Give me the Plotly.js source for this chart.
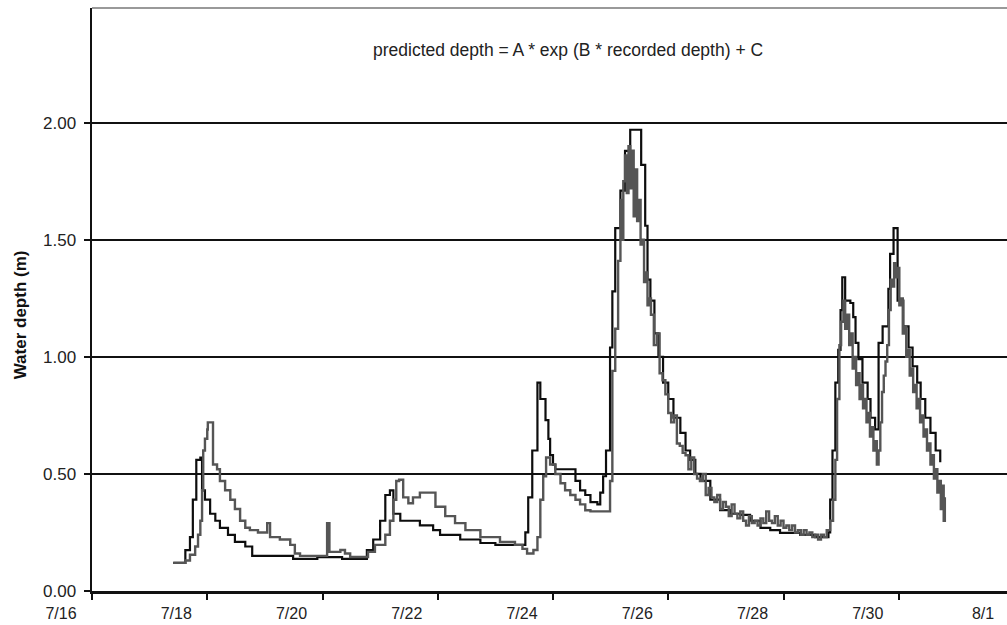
<!DOCTYPE html>
<html><head><meta charset="utf-8">
<script src="https://cdn.plot.ly/plotly-3.0.1.min.js"></script>
<style>html,body{margin:0;padding:0;overflow:hidden;background:#fff}#chart{width:1030px;height:625px}</style>
</head><body><div id="chart"></div>
<script>
// Day of July (fractional) and water depth (m) for the dark (recorded-based) series
const blackDay=[17.41,17.58,17.62,17.70,17.75,17.81,17.88,17.91,17.96,18.05,18.14,18.22,18.36,18.48,18.66,18.78,19.49,19.91,20.34,20.65,20.77,20.88,21.00,21.09,21.17,21.23,21.35,21.69,21.92,22.04,22.39,22.74,23.00,23.43,23.52,23.57,23.64,23.73,23.78,23.87,23.92,23.95,24.00,24.04,24.30,24.39,24.47,24.56,24.65,24.77,24.82,24.87,24.92,24.99,25.03,25.08,25.17,25.25,25.34,25.51,25.53,25.60,25.64,25.69,25.76,25.83,25.91,26.00,26.09,26.21,26.30,26.38,26.47,26.56,26.73,26.90,27.08,27.25,27.42,27.60,27.77,27.94,28.29,28.55,28.78,28.81,28.85,28.90,28.95,28.99,29.02,29.07,29.16,29.21,29.25,29.30,29.37,29.46,29.51,29.59,29.65,29.72,29.82,29.85,29.91,29.98,30.08,30.17,30.24,30.32,30.38,30.46,30.55,30.64,30.72];
const blackDepth=[0.12,0.12,0.175,0.23,0.39,0.56,0.57,0.43,0.39,0.33,0.30,0.27,0.24,0.21,0.19,0.15,0.137,0.145,0.137,0.137,0.175,0.22,0.30,0.41,0.43,0.33,0.30,0.28,0.26,0.24,0.22,0.205,0.197,0.197,0.25,0.40,0.60,0.89,0.82,0.73,0.65,0.58,0.54,0.52,0.52,0.47,0.43,0.41,0.38,0.37,0.42,0.49,0.60,1.04,1.28,1.55,1.71,1.88,1.97,1.97,1.82,1.56,1.33,1.24,1.10,1.00,0.89,0.82,0.74,0.675,0.60,0.56,0.50,0.47,0.39,0.345,0.33,0.325,0.30,0.27,0.26,0.248,0.24,0.23,0.25,0.39,0.60,0.89,1.03,1.20,1.34,1.24,1.23,1.17,1.06,0.99,0.89,0.82,0.74,0.69,1.06,1.13,1.29,1.44,1.55,1.24,1.13,1.04,0.96,0.89,0.82,0.74,0.675,0.60,0.55];

// Day of July (fractional) and water depth (m) for the gray (predicted) series
const grayDay=[17.41,17.62,17.70,17.79,17.84,17.88,17.91,17.93,17.96,18.00,18.01,18.08,18.10,18.17,18.22,18.31,18.40,18.48,18.57,18.66,18.74,18.88,19.00,19.04,19.09,19.26,19.44,19.52,19.61,20.05,20.08,20.12,20.31,20.39,20.48,20.69,20.79,20.91,21.09,21.17,21.23,21.28,21.33,21.40,21.49,21.57,21.69,21.83,21.96,22.13,22.30,22.48,22.74,23.08,23.34,23.47,23.55,23.66,23.73,23.78,23.83,23.88,23.95,24.04,24.13,24.21,24.30,24.39,24.47,24.56,24.65,24.91,24.99,
25.03,25.08,25.13,25.17,25.20,25.22,25.25,25.28,25.31,25.34,25.37,25.40,25.43,25.46,25.49,25.52,25.55,25.58,25.61,25.64,25.67,
25.70,25.75,25.80,25.85,25.90,25.95,26.00,26.05,26.10,26.15,26.20,26.25,26.30,26.35,26.40,26.45,26.50,26.55,26.60,26.65,26.70,26.75,26.80,26.85,26.90,26.95,27.00,27.05,27.10,27.15,27.20,27.25,27.30,27.35,27.40,27.45,27.50,27.55,27.60,27.65,27.70,27.75,27.80,27.85,27.90,27.95,28.00,28.05,28.10,28.15,28.20,28.25,28.30,28.35,28.40,28.45,28.50,28.55,28.60,28.65,28.70,
28.75,28.81,28.86,28.90,28.93,28.97,29.00,29.04,29.07,29.11,29.14,29.17,29.20,29.23,29.26,29.29,29.32,29.35,29.38,29.41,29.44,29.47,29.50,29.53,29.56,29.59,29.62,29.65,29.68,29.71,29.74,29.77,29.80,29.83,29.86,29.89,29.92,29.95,29.98,30.01,30.04,30.07,30.10,30.13,30.16,30.19,30.22,30.25,30.28,30.31,30.34,30.37,30.40,30.43,30.46,30.49,30.52,30.55,30.58,30.61,30.64,30.67,30.70,30.73,30.76,30.78,30.80];
const grayDepth=[0.12,0.13,0.155,0.19,0.24,0.30,0.43,0.60,0.65,0.69,0.72,0.72,0.54,0.52,0.47,0.43,0.39,0.35,0.30,0.27,0.26,0.25,0.25,0.29,0.23,0.22,0.197,0.16,0.15,0.15,0.29,0.167,0.175,0.16,0.145,0.145,0.167,0.197,0.24,0.30,0.39,0.47,0.475,0.40,0.375,0.40,0.42,0.42,0.36,0.32,0.29,0.26,0.23,0.21,0.197,0.18,0.16,0.175,0.23,0.39,0.49,0.57,0.54,0.50,0.46,0.43,0.41,0.39,0.37,0.345,0.34,0.34,0.47,
0.94,1.12,1.41,1.67,1.50,1.75,1.86,1.70,1.90,1.72,1.88,1.60,1.80,1.58,1.67,1.48,1.50,1.32,1.36,1.22,1.25,
1.18,1.05,1.10,0.93,0.90,0.84,0.76,0.72,0.75,0.63,0.62,0.59,0.58,0.52,0.57,0.50,0.48,0.47,0.50,0.41,0.44,0.40,0.38,0.41,0.35,0.38,0.36,0.32,0.37,0.33,0.31,0.34,0.30,0.28,0.32,0.29,0.30,0.28,0.31,0.29,0.34,0.30,0.29,0.32,0.28,0.30,0.27,0.28,0.26,0.28,0.25,0.26,0.24,0.26,0.24,0.25,0.23,0.24,0.22,0.24,0.23,
0.26,0.30,0.39,0.56,0.82,1.05,1.15,1.24,1.12,1.18,1.05,1.10,0.95,1.00,0.88,0.93,0.82,0.88,0.78,0.82,0.72,0.76,0.66,0.70,0.60,0.64,0.54,0.60,0.72,0.85,0.92,0.98,1.05,1.20,1.33,1.30,1.40,1.34,1.38,1.22,1.25,1.10,1.13,1.00,1.03,0.92,0.95,0.85,0.88,0.78,0.82,0.72,0.75,0.66,0.69,0.60,0.63,0.54,0.58,0.48,0.52,0.42,0.47,0.35,0.45,0.30,0.40];

const xTickDates=['2000-07-16','2000-07-18','2000-07-20','2000-07-22','2000-07-24','2000-07-26','2000-07-28','2000-07-30','2000-08-01'];
const xTickText=['7/16','7/18','7/20','7/22','7/24','7/26','7/28','7/30','8/1'];
const yTickVals=[0,0.5,1,1.5,2];
const yTickText=['0.00','0.50','1.00','1.50','2.00'];
const equationText='predicted depth = A * exp (B * recorded depth) + C';
const yTitleText='Water depth (m)';

function toDate(d){
  const t=Date.UTC(2000,6,1)+(d-1)*864e5;
  return new Date(t).toISOString().replace('T',' ').slice(0,19);
}

const FONT='Liberation Sans, Arial, sans-serif';
const traces=[
  {x:blackDay.map(toDate),y:blackDepth,type:'scatter',mode:'lines',line:{color:'#0d0d0d',width:2.2,shape:'hv'},hoverinfo:'skip'},
  {x:grayDay.map(toDate),y:grayDepth,type:'scatter',mode:'lines',line:{color:'#555555',width:2.4,shape:'hv'},hoverinfo:'skip'}
];
const layout={
  width:1030,height:625,
  margin:{l:92,r:16,t:8,b:34},
  paper_bgcolor:'#fff',plot_bgcolor:'#fff',
  showlegend:false,
  font:{family:FONT,size:17,color:'#222'},
  xaxis:{type:'date',range:['2000-07-16','2000-08-01'],tickmode:'array',tickvals:xTickDates,ticktext:xTickText,
    ticks:'outside',ticklen:6,tickwidth:2,tickcolor:'#111',showgrid:false,zeroline:false,
    showline:true,linecolor:'#111',linewidth:2.5,ticklabelshift:-31,ticklabelstandoff:0,
    tickfont:{family:FONT,size:16,color:'#222'}},
  yaxis:{range:[0,2.49],tickmode:'array',tickvals:yTickVals,ticktext:yTickText,
    ticks:'outside',ticklen:6,tickwidth:2,tickcolor:'#111',showgrid:true,gridcolor:'#111',gridwidth:2,
    zeroline:false,showline:true,linecolor:'#111',linewidth:2.5,ticklabelstandoff:4,
    tickfont:{family:FONT,size:17,color:'#222'}},
  shapes:[{type:'line',xref:'paper',yref:'paper',x0:0,x1:1,y0:1,y1:1,line:{color:'#999',width:2}}],
  annotations:[
    {text:equationText,xref:'paper',yref:'paper',x:0.516,y:0.928,xanchor:'center',yanchor:'middle',showarrow:false,
     font:{family:FONT,size:17.5,color:'#222'}},
    {text:'<b>'+yTitleText+'</b>',xref:'paper',yref:'paper',x:-0.078,y:0.473,xanchor:'center',yanchor:'middle',textangle:-90,showarrow:false,
     font:{family:FONT,size:17,color:'#111'}}
  ]
};
Plotly.newPlot('chart',traces,layout,{displayModeBar:false,staticPlot:true});
</script></body></html>
